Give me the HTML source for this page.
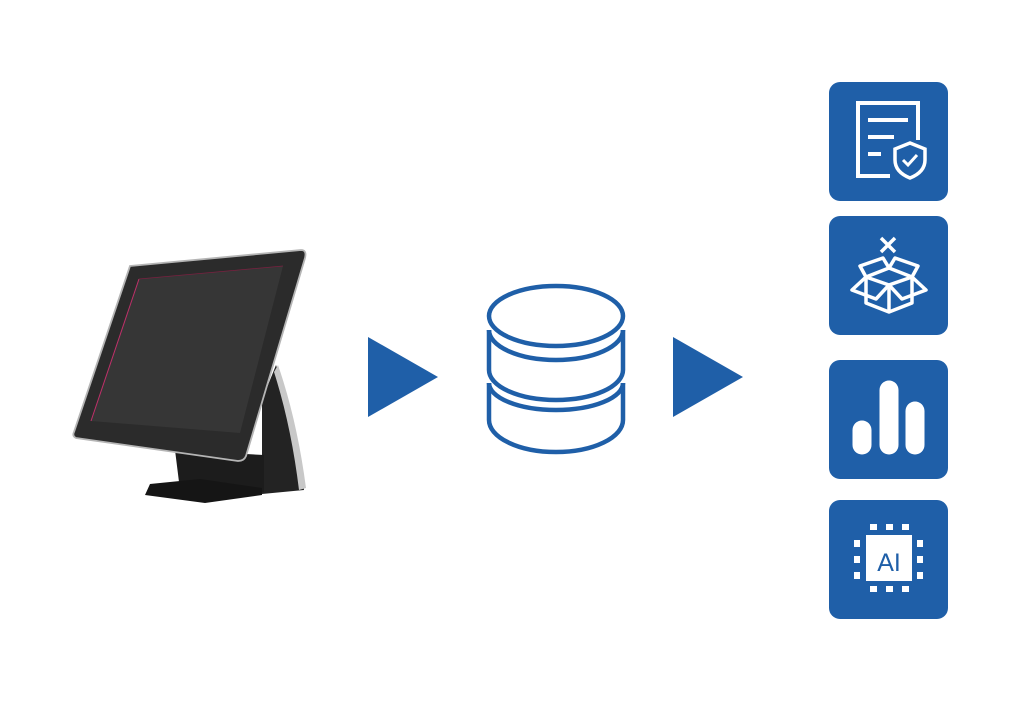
<!DOCTYPE html>
<html><head><style>html,body{margin:0;padding:0;background:#fff}svg{display:block}</style></head>
<body>
<svg width="1024" height="717" viewBox="0 0 1024 717" xmlns="http://www.w3.org/2000/svg">
<!-- monitor -->
<path d="M262 400 L276 365 Q296 420 304 490 L262 494 Z" fill="#232323"/>
<path d="M278 365 Q297 420 306 488 L299 490 Q291 425 274 372 Z" fill="#c8c8c8"/>
<path d="M175 450 L264 455 L264 492 L180 490 Z" fill="#1c1c1c"/>
<path d="M150 484 L200 479 L262 488 L262 495 L205 503 L145 495 Z" fill="#151515"/>
<path d="M130 266 L301 250 Q307 250 305 258 L246 456 Q244 461 238 461 L76 438 Q72 436 74 432 Z" fill="#2b2b2b" stroke="#b5b5b5" stroke-width="1.8"/>
<path d="M139 279 L283 266 L240 433 L91 421 Z" fill="#363636"/>
<path d="M139 279 L91 421" stroke="#c0306a" stroke-width="1"/>
<path d="M139 279 L283 266" stroke="#7a2040" stroke-width="0.8"/>
<!-- arrows -->
<polygon points="368,337 438,377 368,417" fill="#1f5fa8"/>
<polygon points="673,337 743,377 673,417" fill="#1f5fa8"/>
<!-- database -->
<g fill="none" stroke="#1f5fa8" stroke-width="4.5">
<ellipse cx="556" cy="316" rx="67" ry="30"/>
<path d="M489 330 A67 30 0 0 0 623 330"/>
<path d="M489 330 V370 A67 30 0 0 0 623 370 V330"/>
<path d="M489 383 A67 27 0 0 0 623 383"/>
<path d="M489 383 V420 A67 32 0 0 0 623 420 V383"/>
</g>
<!-- boxes -->
<g fill="#1f5fa8">
<rect x="829" y="82" width="119" height="119" rx="11"/>
<rect x="829" y="216" width="119" height="119" rx="11"/>
<rect x="829" y="360" width="119" height="119" rx="11"/>
<rect x="829" y="500" width="119" height="119" rx="11"/>
</g>
<!-- doc icon -->
<g fill="none" stroke="#fff" stroke-width="4">
<path d="M890 176 H858 V103 H918 V140"/>
<path d="M868 120 H908 M868 137 H894 M868 154 H881"/>
<path d="M910 143 L925 149 V160 Q925 172 910 178 Q895 172 895 160 V149 Z" stroke-width="3.5"/>
<path d="M903 160 L908 165 L917 155" stroke-width="3"/>
</g>
<!-- box icon -->
<g fill="none" stroke="#fff" stroke-width="3.5" stroke-linejoin="round">
<path d="M881 238 L895 252 M895 238 L881 252"/>
<path d="M866 277 V303 L889 312 L912 303 V277"/>
<path d="M889 285 V312"/>
<path d="M866 277 L889 285 L912 277 L889 268 Z"/>
<path d="M866 277 L852 290 L876 299 L889 285"/>
<path d="M912 277 L926 290 L902 299 L889 285"/>
<path d="M866 277 L860 266 L883 258 L889 268 L895 258 L918 266 L912 277"/>
</g>
<!-- bar icon -->
<g stroke="#fff" stroke-width="19" stroke-linecap="round">
<line x1="862" y1="430" x2="862" y2="445"/>
<line x1="889" y1="390" x2="889" y2="445"/>
<line x1="915" y1="411" x2="915" y2="445"/>
</g>
<!-- AI icon -->
<g fill="#fff">
<rect x="866" y="535" width="46" height="46"/>
<rect x="870" y="524" width="7" height="6"/><rect x="886" y="524" width="7" height="6"/><rect x="902" y="524" width="7" height="6"/>
<rect x="870" y="586" width="7" height="6"/><rect x="886" y="586" width="7" height="6"/><rect x="902" y="586" width="7" height="6"/>
<rect x="854" y="540" width="6" height="7"/><rect x="854" y="556" width="6" height="7"/><rect x="854" y="572" width="6" height="7"/>
<rect x="917" y="540" width="6" height="7"/><rect x="917" y="556" width="6" height="7"/><rect x="917" y="572" width="6" height="7"/>
</g>
<text x="889" y="571" text-anchor="middle" font-family="Liberation Sans, sans-serif" font-size="25" fill="#1f5fa8">AI</text>
</svg>
</body></html>
